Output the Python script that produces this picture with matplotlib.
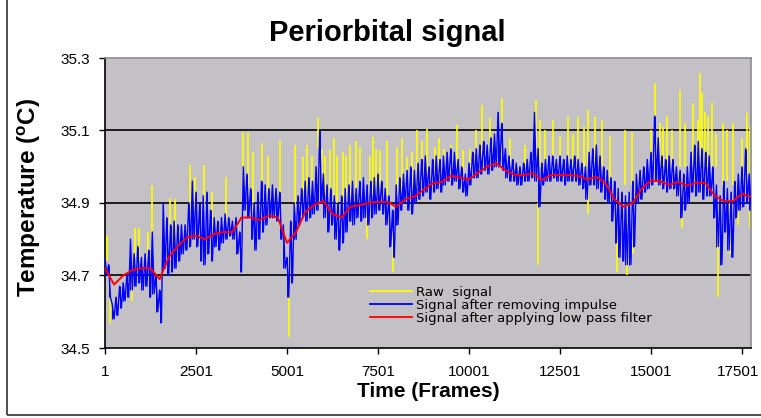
import numpy as np
import matplotlib
matplotlib.use('Agg')
import matplotlib.pyplot as plt
import matplotlib.transforms as mtransforms
from matplotlib.patches import Rectangle
from matplotlib.lines import Line2D

plt.rcParams['font.family'] = ['Liberation Sans', 'DejaVu Sans']
plt.rcParams['mathtext.fontset'] = 'custom'
plt.rcParams['mathtext.rm'] = 'Liberation Sans:bold'

# signal after removing impulse: upper and lower swing of each 100-frame block
blue_step = 100
blue_hi = [
    34.75, 34.73, 34.62, 34.64, 34.67, 34.68, 34.70, 34.80, 34.76, 34.78,
    34.75, 34.76, 34.77, 34.82, 34.70, 34.66, 34.90, 34.86, 34.84, 34.85,
    34.84, 34.84, 34.84, 34.90, 34.96, 34.93, 34.90, 34.92, 34.93, 34.88,
    34.86, 34.85, 34.86, 34.87, 34.86, 34.85, 34.86, 34.82, 35.00, 34.98,
    34.94, 34.90, 34.93, 34.96, 34.95, 34.94, 34.95, 34.94, 34.93, 34.84,
    34.75, 34.85, 34.90, 34.92, 34.94, 34.96, 34.97, 34.96, 35.00, 35.10,
    34.98, 34.95, 34.94, 34.92, 34.90, 34.92, 34.94, 34.95, 34.96, 34.94,
    34.96, 34.97, 34.95, 34.96, 34.97, 34.98, 34.96, 34.94, 34.92, 34.88,
    34.95, 34.97, 34.98, 34.99, 35.00, 34.99, 35.01, 35.02, 35.03, 35.00,
    35.02, 35.03, 35.02, 35.03, 35.04, 35.05, 35.04, 35.02, 35.00, 34.98,
    35.01, 35.04, 35.05, 35.06, 35.07, 35.06, 35.08, 35.09, 35.15, 35.12,
    35.05, 35.03, 35.02, 35.01, 35.00, 35.01, 35.02, 35.04, 35.15, 35.05,
    35.01, 35.02, 35.03, 35.03, 35.02, 35.03, 35.02, 35.03, 35.02, 35.03,
    35.02, 35.01, 35.00, 35.04, 35.05, 35.06, 35.03, 35.00, 34.99, 34.97,
    34.96, 34.94, 34.93, 34.92, 34.93, 34.96, 34.98, 34.99, 35.00, 35.02,
    35.04, 35.14, 35.08, 35.03, 35.02, 35.03, 35.02, 35.00, 34.99, 34.98,
    35.00, 35.04, 35.06, 35.07, 35.05, 35.04, 35.03, 35.00, 34.95, 34.92,
    34.96, 34.94, 34.93, 34.96, 34.98, 35.00, 35.05, 34.98,
]
blue_lo = [
    34.70, 34.64, 34.58, 34.59, 34.61, 34.63, 34.64, 34.66, 34.67, 34.68,
    34.66, 34.67, 34.64, 34.65, 34.60, 34.57, 34.72, 34.70, 34.71, 34.72,
    34.74, 34.76, 34.77, 34.78, 34.80, 34.78, 34.74, 34.73, 34.76, 34.74,
    34.78, 34.77, 34.79, 34.80, 34.81, 34.80, 34.76, 34.71, 34.88, 34.86,
    34.80, 34.77, 34.80, 34.82, 34.84, 34.86, 34.86, 34.85, 34.80, 34.72,
    34.64, 34.68, 34.80, 34.84, 34.86, 34.85, 34.86, 34.87, 34.88, 34.90,
    34.86, 34.82, 34.84, 34.80, 34.77, 34.79, 34.82, 34.85, 34.84, 34.86,
    34.85, 34.86, 34.84, 34.86, 34.87, 34.88, 34.87, 34.84, 34.78, 34.75,
    34.84, 34.88, 34.90, 34.88, 34.87, 34.90, 34.91, 34.92, 34.93, 34.91,
    34.93, 34.94, 34.93, 34.95, 34.96, 34.95, 34.96, 34.94, 34.93, 34.92,
    34.95, 34.97, 34.97, 34.98, 34.99, 34.98, 34.99, 35.00, 35.00, 34.99,
    34.97, 34.96, 34.96, 34.95, 34.95, 34.96, 34.96, 34.97, 34.96, 34.89,
    34.95, 34.96, 34.96, 34.97, 34.96, 34.96, 34.95, 34.96, 34.96, 34.96,
    34.95, 34.94, 34.91, 34.95, 34.95, 34.94, 34.93, 34.91, 34.90, 34.85,
    34.79, 34.75, 34.74, 34.73, 34.73, 34.78, 34.90, 34.91, 34.93, 34.94,
    34.95, 34.96, 34.95, 34.94, 34.93, 34.94, 34.94, 34.92, 34.86, 34.88,
    34.90, 34.93, 34.92, 34.93, 34.91, 34.92, 34.92, 34.86, 34.78, 34.73,
    34.82, 34.77, 34.75, 34.86, 34.88, 34.89, 34.90, 34.88,
]

# signal after low pass filter, one value every 250 frames
red_step = 250
red = [
    34.72, 34.675, 34.70, 34.715, 34.72, 34.72, 34.69, 34.75, 34.78, 34.805,
    34.81, 34.80, 34.815, 34.82, 34.82, 34.86, 34.86, 34.853, 34.865, 34.86,
    34.79, 34.82, 34.875, 34.895, 34.905, 34.87, 34.86, 34.89, 34.894, 34.90,
    34.903, 34.903, 34.89, 34.91, 34.918, 34.936, 34.954, 34.958, 34.975, 34.97,
    34.965, 34.984, 35.00, 35.01, 34.99, 34.978, 34.977, 34.982, 34.963, 34.977,
    34.977, 34.977, 34.975, 34.965, 34.972, 34.955, 34.91, 34.89, 34.90, 34.94,
    34.962, 34.96, 34.95, 34.958, 34.948, 34.956, 34.955, 34.92, 34.905, 34.905,
    34.925, 34.917,
]

# raw signal impulses: frame, low end, high end
raw_frames = [50, 140, 730, 830, 940, 1170, 1280, 1790, 1920, 2340,
              2470, 2730, 2930, 3330, 3800, 3940, 4070, 4310, 4480, 4810,
              5050, 5220, 5440, 5680, 5860, 6050, 6180, 6380, 6540, 6730,
              7010, 7200, 7280, 7360, 7560, 7750, 7910, 8020, 8300, 8570,
              8850, 9070, 9310, 9670, 9840, 10030, 10360, 10580, 10910, 11130,
              11540, 11840, 11900, 11950, 12310, 12500, 12720, 13000, 13270, 13460,
              13650, 13870, 14070, 14290, 14340, 14480, 14510, 15110, 15250, 15330,
              15580, 15800, 15850, 16150, 16290, 16350, 16400, 16570, 16680, 16840,
              16980, 17170, 17250, 17390, 17640, 17720,
              5540, 5960, 6280, 6630, 6900, 7460, 8150, 8430, 8700, 9190,
              9500, 10200, 10700, 12100, 12850, 13150, 15000, 15450, 15950, 16480,
              16780, 17080, 17500]
raw_lo = [34.74, 34.57, 34.63, 34.75, 34.74, 34.74, 34.80, 34.78, 34.78, 34.88,
          34.88, 34.88, 34.84, 34.84, 34.95, 34.92, 34.90, 34.90, 34.90, 34.90,
          34.53, 34.88, 34.90, 34.90, 35.05, 34.90, 34.90, 34.90, 34.90, 34.90,
          34.90, 34.80, 34.90, 34.92, 34.92, 34.92, 34.71, 34.92, 34.93, 34.94,
          34.96, 34.97, 34.97, 34.99, 34.99, 35.00, 35.02, 35.02, 35.03, 35.00,
          35.00, 35.03, 34.73, 35.00, 35.00, 35.00, 35.00, 35.00, 34.87, 35.00,
          35.00, 34.96, 34.71, 34.95, 34.70, 34.95, 34.76, 35.05, 35.00, 35.00,
          35.00, 35.00, 34.83, 35.00, 35.00, 35.00, 35.00, 35.00, 35.00, 34.64,
          34.95, 34.76, 34.95, 34.84, 34.97, 34.83,
          34.90, 34.92, 34.90, 34.90, 34.90, 34.92, 34.93, 34.94, 34.95, 34.97,
          34.98, 35.00, 35.02, 35.00, 35.00, 35.00, 35.00, 35.00, 35.00, 35.00,
          35.00, 34.96, 34.95]
raw_hi = [34.81, 34.66, 34.70, 34.83, 34.83, 34.82, 34.95, 34.913, 34.91, 35.005,
          34.973, 35.005, 34.93, 34.973, 35.097, 35.092, 35.04, 35.065, 35.03, 35.07,
          34.70, 35.06, 35.028, 35.03, 35.134, 35.03, 35.046, 35.03, 35.04, 35.06,
          35.055, 34.86, 35.03, 35.083, 35.046, 35.07, 34.82, 35.055, 35.026, 35.10,
          35.104, 35.055, 35.05, 35.115, 35.046, 35.05, 35.17, 35.134, 35.19, 35.08,
          35.06, 35.184, 34.90, 35.13, 35.13, 35.085, 35.138, 35.138, 35.157, 35.138,
          35.13, 35.085, 34.85, 35.10, 34.86, 35.097, 34.88, 35.23, 35.12, 35.11,
          35.10, 35.212, 34.95, 35.175, 35.13, 35.258, 35.203, 35.14, 35.175, 34.82,
          35.12, 34.90, 35.12, 34.95, 35.147, 35.11,
          35.06, 35.05, 35.08, 35.03, 35.07, 35.05, 35.08, 35.04, 35.07, 35.08,
          35.06, 35.10, 35.09, 35.10, 35.09, 35.11, 35.10, 35.14, 35.12, 35.15,
          35.09, 35.10, 35.08]

x_ticks = [1, 2501, 5001, 7501, 10001, 12501, 15001, 17501]
y_ticks = [34.5, 34.7, 34.9, 35.1, 35.3]

# trace runs high then low inside each 100-frame block
blue_f = 1 + blue_step * np.arange(len(blue_hi))
blue_x = np.column_stack([blue_f, blue_f + blue_step / 2]).ravel()
blue_y = np.column_stack([blue_hi, blue_lo]).ravel()
red_x = 1 + red_step * np.arange(len(red))

fig = plt.figure(figsize=(7.61, 4.18), dpi=100)
ax = fig.add_axes([105 / 761, 1 - 348 / 418, 646 / 761, 290 / 418])
ax.set_facecolor('#c3c1c6')

for y in y_ticks[1:-1]:
    ax.axhline(y, color='black', lw=1.2, zorder=1)

ax.vlines(raw_frames, raw_lo, raw_hi, color='#ffff00', lw=1.2, zorder=2)
ax.vlines(blue_f, blue_lo, blue_hi, color='#0000ff', lw=0.7, zorder=3)
ax.plot(blue_x, blue_y, color='#0000ff', lw=1.0, zorder=3)
ax.plot(red_x, red, color='#ff0000', lw=1.4, zorder=4)

ax.set_xlim(1, 17750)
ax.set_ylim(34.5, 35.3)
ax.set_xticks(x_ticks)
ax.set_yticks(y_ticks)
ax.set_xticklabels([str(t) for t in x_ticks])
ax.set_yticklabels(['%.1f' % t for t in y_ticks])
ax.tick_params(direction='out', length=4.5, width=1, labelsize=11, pad=6)
ax.tick_params(axis='x', pad=8)
# last label sits against the right edge, nudge it in a little
last = ax.get_xticklabels()[-1]
last.set_transform(last.get_transform() + mtransforms.ScaledTranslation(-3 / 72, 0, fig.dpi_scale_trans))

for side in ['top', 'right']:
    ax.spines[side].set_color('#8c8c8c')
    ax.spines[side].set_linewidth(1.2)
for side in ['left', 'bottom']:
    ax.spines[side].set_color('black')
    ax.spines[side].set_linewidth(1.2)

fig.text(387 / 761, 1 - 33 / 418, 'Periorbital signal', ha='center', va='center',
         fontsize=21, fontweight='bold')
ax.set_xlabel('Time (Frames)', fontsize=15, fontweight='bold', labelpad=2)
ax.set_ylabel(r'Temperature ($\mathregular{^o}$C)', fontsize=17.5, fontweight='bold')
ax.yaxis.set_label_coords(-0.096, 0.52)

handles = [Line2D([], [], color='#ffff00', lw=1.3),
           Line2D([], [], color='#0000ff', lw=1.3),
           Line2D([], [], color='#ff0000', lw=1.3)]
labels = ['Raw  signal', 'Signal after removing impulse', 'Signal after applying low pass filter']
ax.legend(handles, labels, loc='upper left', bbox_to_anchor=(0.41, 0.215), frameon=False,
          prop={'family': 'DejaVu Sans', 'size': 9.5}, handlelength=3.2,
          handletextpad=0.3, labelspacing=0.0, borderaxespad=0, borderpad=0)

fig.patches.append(Rectangle((7 / 761, 3 / 418), 2, 2, transform=fig.transFigure,
                             fill=False, edgecolor='#404040', lw=1.3))

fig.savefig('out.png', dpi=100)
